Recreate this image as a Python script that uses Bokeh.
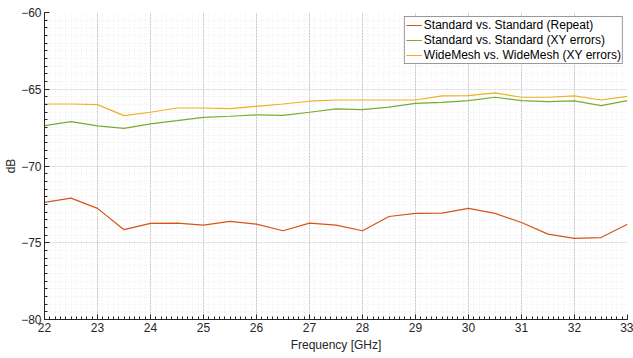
from bokeh.plotting import figure
from bokeh.models import FixedTicker, Range1d
from bokeh.embed import file_html
from bokeh.resources import INLINE

freq = [22, 22.5, 23, 23.5, 24, 24.5, 25, 25.5, 26, 26.5, 27, 27.5, 28,
        28.5, 29, 29.5, 30, 30.5, 31, 31.5, 32, 32.5, 33]
repeat = [-72.37, -72.09, -72.76, -74.15, -73.74, -73.72, -73.85, -73.61,
          -73.79, -74.22, -73.72, -73.85, -74.22, -73.29, -73.09, -73.07,
          -72.76, -73.09, -73.68, -74.44, -74.72, -74.66, -73.79]
std_xy = [-67.37, -67.11, -67.39, -67.55, -67.26, -67.05, -66.83, -66.76,
          -66.67, -66.70, -66.50, -66.28, -66.33, -66.17, -65.92, -65.85,
          -65.74, -65.52, -65.74, -65.80, -65.76, -66.07, -65.74]
wide_xy = [-65.96, -65.96, -66.00, -66.72, -66.50, -66.22, -66.22, -66.26,
           -66.11, -65.96, -65.78, -65.70, -65.70, -65.70, -65.70, -65.43,
           -65.41, -65.24, -65.52, -65.52, -65.43, -65.70, -65.46]
labels = ["Standard vs. Standard (Repeat)",
          "Standard vs. Standard (XY errors)",
          "WideMesh vs. WideMesh (XY errors)"]
x_ticks = list(range(22, 34))
y_ticks = [-80, -75, -70, -65, -60]
x_minor = [22 + i * 0.1 for i in range(111)]
y_minor = [-80 + i * 0.5 for i in range(41)]

FONT = "Liberation Sans"
AX = "#262626"

p = figure(width=633, height=358, output_backend="svg", toolbar_location=None,
           x_range=Range1d(22, 33), y_range=Range1d(-80, -60),
           min_border_left=44, min_border_right=6, min_border_top=12,
           min_border_bottom=39, background_fill_color="white",
           border_fill_color="white")
p.outline_line_color = None

p.xaxis.ticker = FixedTicker(ticks=x_ticks, minor_ticks=x_minor)
p.yaxis.ticker = FixedTicker(ticks=y_ticks, minor_ticks=y_minor)
p.xaxis.axis_label = "Frequency [GHz]"
p.yaxis.axis_label = "dB"
for ax in (p.xaxis, p.yaxis):
    ax.axis_line_color = AX
    ax.major_tick_line_color = AX
    ax.minor_tick_line_color = AX
    ax.major_tick_in = 5
    ax.major_tick_out = 0
    ax.minor_tick_in = 3
    ax.minor_tick_out = 0
    ax.major_label_text_font = FONT
    ax.major_label_text_font_size = "12px"
    ax.major_label_text_color = AX
    ax.axis_label_text_font = FONT
    ax.axis_label_text_font_size = "12px"
    ax.axis_label_text_font_style = "normal"
    ax.axis_label_text_color = AX
p.xaxis.major_label_standoff = 3
p.yaxis.major_label_standoff = 3
p.xaxis.axis_label_standoff = 3
p.yaxis.axis_label_standoff = 0

p.xgrid.grid_line_color = "#c4c4c4"
p.xgrid.grid_line_dash = "2 1"
p.ygrid.grid_line_color = "#d9d9d9"
p.ygrid.grid_line_dash = "2 1"
p.xgrid.minor_grid_line_color = "#ececec"
p.xgrid.minor_grid_line_dash = "1 2"
p.ygrid.minor_grid_line_color = "#ececec"
p.ygrid.minor_grid_line_dash = "1 2"

colors = ["#D95319", "#77AC30", "#EDB120"]
p.line(freq, repeat, line_color=colors[0], line_width=1.2, legend_label=labels[0])
p.line(freq, std_xy, line_color=colors[1], line_width=1.2, legend_label=labels[1])
p.line(freq, wide_xy, line_color=colors[2], line_width=1.2, legend_label=labels[2])

legend = p.legend[0]
legend.location = "top_right"
legend.label_text_font = "Arial"
legend.label_text_font_size = "12px"
legend.label_text_color = "black"
legend.border_line_color = "#333333"
legend.glyph_width = 16
legend.glyph_height = 12
legend.label_height = 12
legend.label_standoff = 2
legend.spacing = 1
legend.padding = 1
legend.margin = 4
legend.background_fill_alpha = 1

open("out.html", "w").write(file_html(p, INLINE))
